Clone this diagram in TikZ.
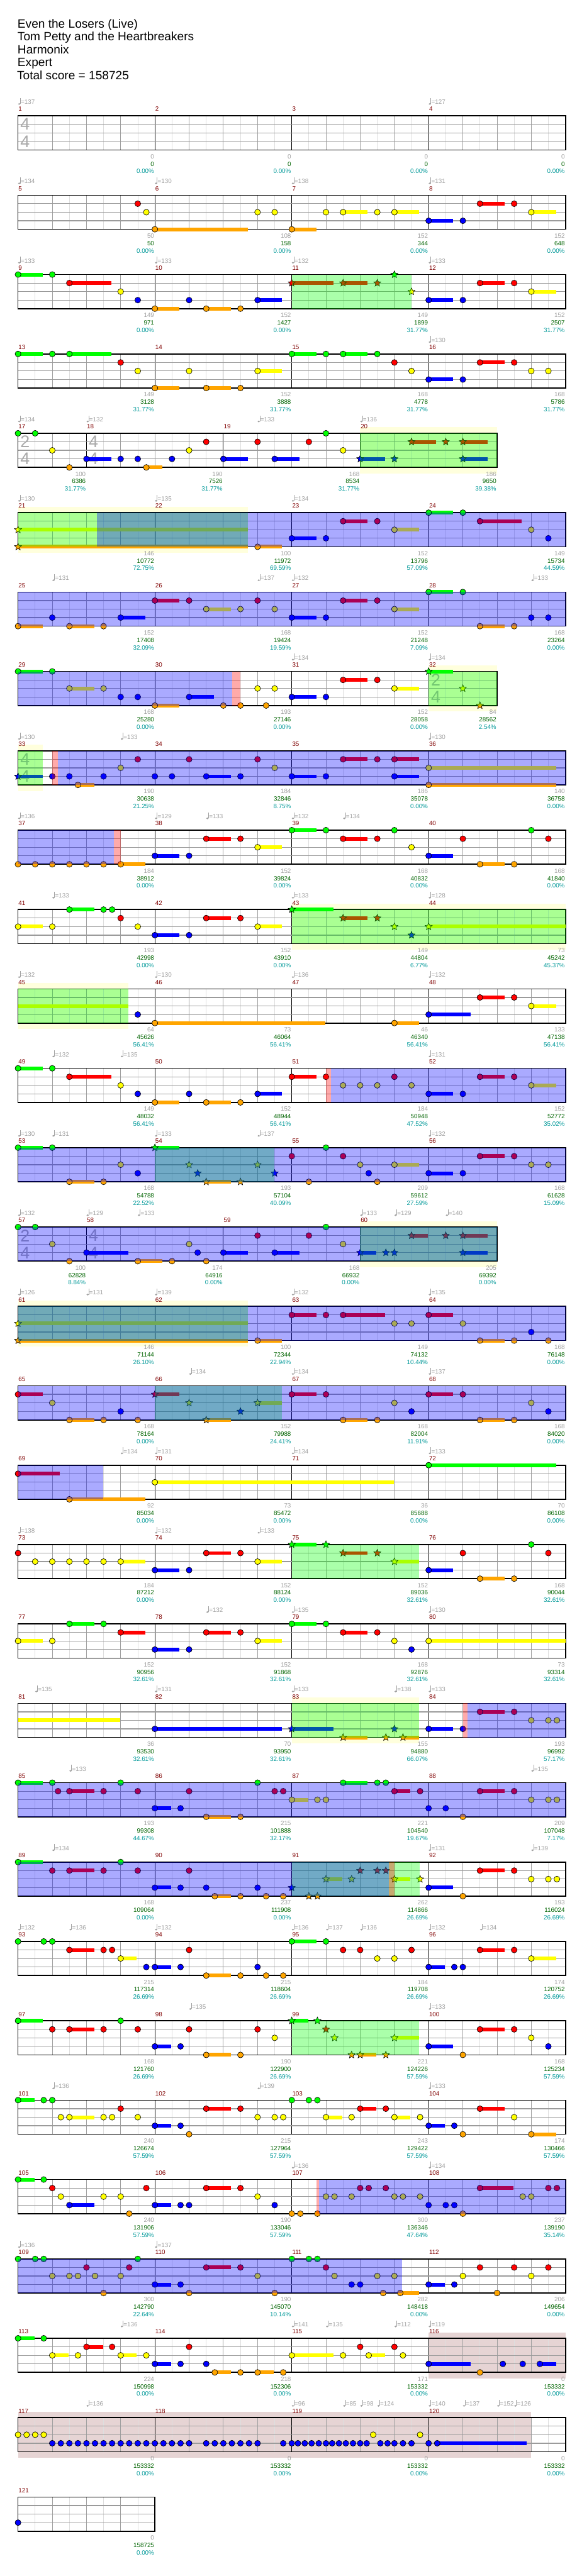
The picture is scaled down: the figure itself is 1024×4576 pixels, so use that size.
\documentclass[tikz,border=0pt]{standalone}
\usepackage{fontspec}
\setmainfont{Liberation Sans}
\usetikzlibrary{shapes.geometric}
\definecolor{cG}{RGB}{0,255,0}
\definecolor{cR}{RGB}{255,0,0}
\definecolor{cY}{RGB}{255,255,0}
\definecolor{cB}{RGB}{0,0,255}
\definecolor{cO}{RGB}{255,165,0}
\definecolor{mred}{RGB}{128,0,0}
\definecolor{tgray}{RGB}{160,160,160}
\definecolor{sgreen}{RGB}{0,100,0}
\definecolor{steal}{RGB}{0,153,153}
\definecolor{halfc}{RGB}{222,222,222}
\definecolor{beatc}{RGB}{160,160,160}
\definecolor{lanec}{RGB}{155,155,155}
\definecolor{tsc}{RGB}{170,170,170}
\definecolor{ybandc}{RGB}{255,255,221}
\definecolor{codac}{RGB}{230,212,212}
\def\laneG{0}\def\laneR{1}\def\laneY{2}\def\laneB{3}\def\laneO{4}
\newcommand\ly[1]{\csname lane#1\endcsname}
\newcommand\scfont{\fontsize{8.25pt}{9pt}\selectfont}
\tikzset{
 rowsty/.style={xshift=24pt, yshift={-(154.275+105.75*(#1-1))*1pt}, x=45.5625pt, y=-11.3625pt},
 gemsty/.style={draw=black, line width=0.55pt},
 starsty/.style={star, star points=5, star point ratio=2.2, minimum size=10pt, inner sep=0pt, draw=black, line width=0.5pt},
 halfl/.style={halfc, line width=0.7pt},
 beatl/.style={beatc, line width=0.7pt},
 measl/.style={black, line width=0.75pt},
 lanel/.style={lanec, line width=1pt},
 borderl/.style={black, line width=1.4pt},
 mnsty/.style={mred, font=\scfont, inner sep=0pt, anchor=base west},
 tpsty/.style={tgray, font=\scfont, inner sep=0pt, anchor=base west},
 sca/.style={tgray, font=\scfont, inner sep=0pt, anchor=base east},
 scb/.style={sgreen, font=\scfont, inner sep=0pt, anchor=base east},
 scc/.style={steal, font=\scfont, inner sep=0pt, anchor=base east},
 tssty/.style={tsc, font=\fontsize{22.5pt}{24pt}\selectfont, inner sep=0pt, anchor=west},
 hdr/.style={font=\fontsize{16pt}{19pt}\selectfont, inner sep=0pt, anchor=base west}
}
\newcommand\gem[2]{\filldraw[gemsty, fill=c#2] (#1,\ly{#2}) circle[radius=3.9pt];}
\newcommand\sust[3]{\fill[c#3] (#1,{\ly{#3}-0.22}) rectangle (#2,{\ly{#3}+0.22});}
\newcommand\hold[3]{\sust{#1}{#2}{#3}\gem{#1}{#3}}
\newcommand\sgem[2]{\node[starsty, fill=c#2] at (#1,\ly{#2}) {};}
\newcommand\shold[3]{\sust{#1}{#2}{#3}\sgem{#1}{#3}}
\newcommand\ovB[2]{\fill[cB, fill opacity=0.3333] (#1,0) rectangle (#2,4);}
\newcommand\ovG[2]{\fill[cG, fill opacity=0.3333] (#1,0) rectangle (#2,4);}
\newcommand\ovP[2]{\fill[cR, fill opacity=0.3333] (#1,0) rectangle (#2,4);}
\newcommand\yband[2]{\fill[ybandc] (#1,-0.7) rectangle (#2,4.7);}
\newcommand\coda[2]{\fill[codac] (#1,-0.7) rectangle (#2,4.7);}
\newcommand\staffgrid[3]{%
 \foreach \ii in {0.5,1.5,...,#2} \draw[halfl] (\ii,0)--(\ii,4);
 \foreach \ii in {1,...,#1} \draw[beatl] (\ii,0)--(\ii,4);
 \foreach \ii in {#3} \draw[measl] (\ii,0)--(\ii,4);
 \foreach \ii in {1,2,3} \draw[lanel] (0,\ii)--(#1,\ii);
 \draw[borderl] (0,0) rectangle (#1,4);}
\newcommand\tsig[3]{\node[tssty] at ([xshift=3pt]#1,1) {#2};\node[tssty] at ([xshift=3pt]#1,3) {#3};}
\newcommand\tempo[2]{%
 \fill[tgray] ([xshift=1.6pt]#1,-1.386) ellipse[x radius=1.6pt, y radius=1.15pt];
 \draw[tgray, line width=0.5pt] ([xshift=3pt]#1,-1.386) -- ([xshift=3pt]#1,-2.09);
 \node[tpsty] at ([xshift=3.6pt]#1,-1.366) {=#2};}
\newcommand\mnum[2]{\node[mnsty] at ([xshift=0.5pt]#1,-0.53) {#2};}
\newcommand\scores[4]{%
 \node[sca] at ([xshift=-0.8pt]#1,5.02) {#2};
 \node[scb] at ([xshift=-0.8pt]#1,5.9) {#3};
 \node[scc] at ([xshift=-0.8pt]#1,6.77) {#4};}
\newcommand\fourm[4]{\mnum{0}{#1}\mnum{4}{#2}\mnum{8}{#3}\mnum{12}{#4}}
\begin{document}
\begin{tikzpicture}[x=0.75pt, y=-0.75pt]
\useasboundingbox (0,0) rectangle (1024,4576);
\fill[white] (0,0) rectangle (1024,4576);
\node[hdr] (title) at (31,49.3) {Even the Losers (Live)};
\node[hdr] (artist) at (31,72.3) {Tom Petty and the Heartbreakers};
\node[hdr] (author) at (31,95.3) {Harmonix};
\node[hdr] (diff) at (31,118.3) {Expert};
\node[hdr] (total) at (30,141.3) {Total score = 158725};
% ---- row 1
\begin{scope}[rowsty=1]
\staffgrid{16}{15.5}{0,4,8,12}\tsig{0}{4}{4}
\tempo{0}{137}\tempo{12}{127}\fourm{1}{2}{3}{4}
\scores{4}{0}{0}{0.00\%}\scores{8}{0}{0}{0.00\%}\scores{12}{0}{0}{0.00\%}\scores{16}{0}{0}{0.00\%}
\end{scope}
% ---- row 2
\begin{scope}[rowsty=2]
\staffgrid{16}{15.5}{0,4,8,12}
\gem{3.5}{R}\gem{3.75}{Y}\hold{4}{6.72}{O}\gem{7}{Y}\gem{7.5}{Y}\hold{8}{8.73}{O}\gem{9}{Y}\hold{9.5}{10.22}{Y}\gem{10.5}{Y}\hold{11}{11.72}{Y}\hold{12}{12.72}{B}\gem{13}{B}\hold{13.5}{14.23}{R}\gem{14.5}{R}\hold{15}{15.73}{Y}
\tempo{0}{134}\tempo{4}{130}\tempo{8}{138}\tempo{12}{131}\fourm{5}{6}{7}{8}
\scores{4}{50}{50}{0.00\%}\scores{8}{108}{158}{0.00\%}\scores{12}{152}{344}{0.00\%}\scores{16}{152}{648}{0.00\%}
\end{scope}
% ---- row 3
\begin{scope}[rowsty=3]
\staffgrid{16}{15.5}{0,4,8,12}
\hold{0}{0.73}{G}\gem{1}{G}\hold{1.5}{2.72}{R}\gem{3}{Y}\gem{3.5}{B}\hold{4}{4.72}{O}\gem{5}{B}\hold{5.5}{6.23}{O}\gem{6.5}{O}\hold{7}{7.72}{B}
\shold{8}{9.22}{R}\shold{9.5}{10.22}{R}\sgem{10.5}{R}\sgem{11}{G}\sgem{11.5}{Y}
\hold{12}{12.72}{B}\gem{13}{B}\hold{13.5}{14.23}{R}\gem{14.5}{R}\hold{15}{15.73}{Y}
\ovG{8}{11.5}
\tempo{0}{133}\tempo{4}{133}\tempo{8}{132}\tempo{12}{133}\fourm{9}{10}{11}{12}
\scores{4}{149}{971}{0.00\%}\scores{8}{152}{1427}{0.00\%}\scores{12}{149}{1899}{31.77\%}\scores{16}{152}{2507}{31.77\%}
\end{scope}
% ---- row 4
\begin{scope}[rowsty=4]
\staffgrid{16}{15.5}{0,4,8,12}
\hold{0}{0.73}{G}\gem{1}{G}\hold{1.5}{2.72}{G}\gem{3}{R}\gem{3.5}{Y}\hold{4}{4.72}{O}\gem{5}{Y}\hold{5.5}{6.23}{O}\gem{6.5}{O}\hold{7}{7.72}{Y}\hold{8}{8.73}{G}\gem{9}{G}\hold{9.5}{10.22}{G}\gem{10.5}{G}\gem{11}{R}\gem{11.5}{Y}\hold{12}{12.72}{B}\gem{13}{B}\hold{13.5}{14.23}{R}\gem{14.5}{R}\gem{15}{Y}\gem{15.5}{Y}
\tempo{12}{130}\fourm{13}{14}{15}{16}
\scores{4}{149}{3128}{31.77\%}\scores{8}{152}{3888}{31.77\%}\scores{12}{168}{4778}{31.77\%}\scores{16}{168}{5786}{31.77\%}
\end{scope}
% ---- row 5
\begin{scope}[rowsty=5]
\yband{10}{14}
\staffgrid{14}{13.5}{0,2,6,10}\tsig{0}{2}{4}\tsig{2}{4}{4}
\gem{0}{G}\gem{0.5}{G}\gem{1}{Y}\gem{1.5}{O}\hold{2}{2.72}{B}\gem{3}{B}\gem{3.5}{B}\hold{3.75}{4.22}{O}\gem{4.5}{B}\gem{5}{Y}\gem{5.5}{R}\hold{6}{6.72}{B}\gem{7}{R}\hold{7.5}{8.22}{B}\gem{8.5}{R}\gem{9}{G}\gem{9.5}{Y}
\shold{10}{10.72}{B}\sgem{11}{B}\shold{11.5}{12.22}{R}\sgem{12.5}{R}\shold{13}{13.72}{R}\shold{13}{13.72}{B}
\ovG{10}{14}
\tempo{0}{134}\tempo{2}{132}\tempo{7}{133}\tempo{10}{136}
\mnum{0}{17}\mnum{2}{18}\mnum{6}{19}\mnum{10}{20}
\scores{2}{100}{6386}{31.77\%}\scores{6}{190}{7526}{31.77\%}\scores{10}{168}{8534}{31.77\%}\scores{14}{186}{9650}{39.38\%}
\end{scope}
% ---- row 6
\begin{scope}[rowsty=6]
\yband{0}{6.72}
\staffgrid{16}{15.5}{0,4,8,12}
\shold{0}{6.72}{Y}\shold{0}{6.72}{O}\hold{7}{7.72}{O}\hold{8}{8.73}{B}\gem{9}{B}\hold{9.5}{10.22}{R}\gem{10.5}{R}\hold{11}{11.72}{Y}\hold{12}{12.72}{G}\gem{13}{G}\hold{13.5}{14.72}{R}\gem{15}{Y}\gem{15.5}{B}
\ovG{0}{6.72}\ovB{2.31}{16}
\tempo{0}{130}\tempo{4}{135}\tempo{8}{134}\fourm{21}{22}{23}{24}
\scores{4}{146}{10772}{72.75\%}\scores{8}{100}{11972}{69.59\%}\scores{12}{152}{13796}{57.09\%}\scores{16}{149}{15734}{44.59\%}
\end{scope}
% ---- row 7
\begin{scope}[rowsty=7]
\staffgrid{16}{15.5}{0,4,8,12}
\hold{0}{0.73}{O}\gem{1}{B}\hold{1.5}{2.23}{O}\gem{2.5}{O}\hold{3}{3.72}{B}\hold{4}{4.72}{R}\gem{5}{R}\hold{5.5}{6.23}{Y}\gem{6.5}{Y}\gem{7}{R}\gem{7.5}{Y}\hold{8}{8.73}{B}\gem{9}{B}\hold{9.5}{10.22}{R}\gem{10.5}{R}\hold{11}{11.72}{Y}\hold{12}{12.72}{G}\gem{13}{G}\hold{13.5}{14.23}{O}\gem{14.5}{O}\gem{15}{B}\gem{15.5}{B}
\ovB{0}{16}
\tempo{1}{131}\tempo{7}{137}\tempo{8}{132}\tempo{15}{133}\fourm{25}{26}{27}{28}
\scores{4}{152}{17408}{32.09\%}\scores{8}{168}{19424}{19.59\%}\scores{12}{152}{21248}{7.09\%}\scores{16}{168}{23264}{0.00\%}
\end{scope}
% ---- row 8
\begin{scope}[rowsty=8]
\yband{12}{14}
\staffgrid{14}{13.5}{0,4,8,12}\tsig{12}{2}{4}
\hold{0}{0.73}{G}\gem{1}{G}\hold{1.5}{2.23}{Y}\gem{2.5}{Y}\gem{3}{B}\gem{3.5}{B}\hold{4}{4.72}{O}\hold{5}{5.73}{B}\gem{6}{O}\gem{6.5}{O}\gem{7}{Y}\gem{7.25}{O}\gem{7.5}{Y}\hold{8}{8.73}{B}\gem{9}{B}\hold{9.5}{10.22}{R}\gem{10.5}{R}\hold{11}{11.72}{Y}\shold{12}{12.72}{G}\sgem{13}{Y}\sgem{13.5}{O}
\ovB{0}{6.25}\ovP{6.25}{6.5}\ovG{12}{14}
\tempo{8}{134}\tempo{12}{134}\fourm{29}{30}{31}{32}
\scores{4}{168}{25280}{0.00\%}\scores{8}{193}{27146}{0.00\%}\scores{12}{152}{28058}{0.00\%}\scores{14}{84}{28562}{2.54\%}
\end{scope}
% ---- row 9
\begin{scope}[rowsty=9]
\yband{0}{0.73}
\staffgrid{16}{15.5}{0,4,8,12}\tsig{0}{4}{4}
\shold{0}{0.73}{B}\gem{1}{B}\gem{1.5}{B}\hold{1.75}{2.23}{O}\gem{2.5}{B}\gem{3}{Y}\gem{3.5}{R}\gem{4}{B}\gem{4.5}{B}\gem{5}{R}\hold{5.5}{6.23}{B}\gem{6.5}{B}\gem{7}{R}\gem{7.5}{Y}\hold{8}{8.73}{B}\gem{9}{B}\hold{9.5}{10.22}{R}\gem{10.5}{R}\hold{11}{11.72}{R}\hold{11}{11.72}{B}\hold{12}{15.73}{Y}\hold{12}{15.73}{O}
\ovG{0}{0.73}\ovP{1}{1.16}\ovB{1.16}{16}
\tempo{0}{130}\tempo{3}{133}\tempo{12}{130}\fourm{33}{34}{35}{36}
\scores{4}{190}{30638}{21.25\%}\scores{8}{184}{32846}{8.75\%}\scores{12}{186}{35078}{0.00\%}\scores{16}{140}{36758}{0.00\%}
\end{scope}
% ---- row 10
\begin{scope}[rowsty=10]
\staffgrid{16}{15.5}{0,4,8,12}
\gem{0}{O}\gem{0.5}{O}\gem{1}{O}\gem{1.5}{O}\gem{2}{O}\gem{2.5}{O}\hold{3}{3.72}{O}\hold{4}{4.72}{B}\gem{5}{B}\hold{5.5}{6.23}{R}\gem{6.5}{R}\hold{7}{7.72}{Y}\hold{8}{8.73}{G}\gem{9}{G}\hold{9.5}{10.22}{R}\gem{10.5}{R}\gem{11}{G}\gem{11.5}{Y}\hold{12}{12.72}{B}\gem{13}{R}\hold{13.5}{14.23}{O}\gem{14.5}{O}\gem{15}{G}\gem{15.5}{R}
\ovB{0}{2.8}\ovP{2.8}{3}
\tempo{0}{136}\tempo{4}{129}\tempo{5.5}{133}\tempo{8}{132}\tempo{9.5}{134}\fourm{37}{38}{39}{40}
\scores{4}{184}{38912}{0.00\%}\scores{8}{152}{39824}{0.00\%}\scores{12}{168}{40832}{0.00\%}\scores{16}{168}{41840}{0.00\%}
\end{scope}
% ---- row 11
\begin{scope}[rowsty=11]
\yband{8}{16}
\staffgrid{16}{15.5}{0,4,8,12}
\hold{0}{0.73}{Y}\gem{1}{Y}\hold{1.5}{2.23}{G}\gem{2.5}{G}\gem{2.75}{G}\gem{3}{R}\gem{3.5}{Y}\hold{4}{4.72}{B}\gem{5}{B}\hold{5.5}{6.23}{R}\gem{6.5}{R}\hold{7}{7.72}{Y}\shold{8}{9.22}{G}\shold{9.5}{10.22}{R}\sgem{10.5}{R}\sgem{11}{Y}\sgem{11.5}{B}\shold{12}{16}{Y}
\ovG{8}{16}
\tempo{1}{133}\tempo{8}{133}\tempo{12}{128}\fourm{41}{42}{43}{44}
\scores{4}{193}{42998}{0.00\%}\scores{8}{152}{43910}{0.00\%}\scores{12}{149}{44804}{6.77\%}\scores{16}{73}{45242}{45.37\%}
\end{scope}
% ---- row 12
\begin{scope}[rowsty=12]
\yband{0}{3.23}
\staffgrid{16}{15.5}{0,4,8,12}
\sust{0}{3.23}{Y}\gem{3.5}{B}\hold{4}{8.98}{O}\hold{11}{11.72}{O}\hold{12}{13.22}{B}\hold{13.5}{14.23}{R}\gem{14.5}{R}\hold{15}{15.73}{Y}
\ovG{0}{3.23}
\tempo{0}{132}\tempo{4}{130}\tempo{8}{136}\tempo{12}{132}\fourm{45}{46}{47}{48}
\scores{4}{64}{45626}{56.41\%}\scores{8}{73}{46064}{56.41\%}\scores{12}{46}{46340}{56.41\%}\scores{16}{133}{47138}{56.41\%}
\end{scope}
% ---- row 13
\begin{scope}[rowsty=13]
\staffgrid{16}{15.5}{0,4,8,12}
\hold{0}{0.73}{G}\gem{1}{G}\hold{1.5}{2.72}{R}\gem{3}{Y}\gem{3.5}{B}\hold{4}{4.72}{O}\gem{5}{B}\hold{5.5}{6.23}{O}\gem{6.5}{O}\hold{7}{7.72}{B}\hold{8}{8.73}{R}\gem{9}{R}\gem{9.5}{Y}\gem{10}{Y}\gem{10.5}{Y}\gem{11}{R}\gem{11.5}{Y}\hold{12}{12.72}{B}\gem{13}{B}\hold{13.5}{14.23}{R}\gem{14.5}{R}\hold{15}{15.73}{Y}
\ovP{9}{9.14}\ovB{9.14}{16}
\tempo{1}{132}\tempo{3}{135}\tempo{12}{131}\fourm{49}{50}{51}{52}
\scores{4}{149}{48032}{56.41\%}\scores{8}{152}{48944}{56.41\%}\scores{12}{184}{50948}{47.52\%}\scores{16}{152}{52772}{35.02\%}
\end{scope}
% ---- row 14
\begin{scope}[rowsty=14]
\staffgrid{16}{15.5}{0,4,8,12}
\hold{0}{0.73}{G}\gem{1}{G}\hold{1.5}{2.23}{O}\gem{2.5}{O}\gem{3}{Y}\gem{3.5}{B}\shold{4}{4.72}{G}\sgem{5}{Y}\sgem{5.25}{B}\shold{5.5}{6.23}{O}\sgem{6.5}{O}\sgem{7}{Y}\sgem{7.5}{B}\gem{8}{R}\gem{8.5}{O}\gem{9}{G}\gem{9.5}{R}\gem{10}{Y}\gem{10.25}{B}\gem{10.5}{O}\hold{11}{11.72}{Y}\hold{12}{12.72}{B}\gem{13}{B}\hold{13.5}{14.23}{R}\gem{14.5}{R}\gem{15}{Y}\gem{15.5}{Y}
\ovG{4}{7.5}\ovB{0}{16}
\tempo{0}{130}\tempo{1}{131}\tempo{4}{133}\tempo{7}{137}\tempo{12}{132}\fourm{53}{54}{55}{56}
\scores{4}{168}{54788}{22.52\%}\scores{8}{193}{57104}{40.09\%}\scores{12}{209}{59612}{27.59\%}\scores{16}{168}{61628}{15.09\%}
\end{scope}
% ---- row 15
\begin{scope}[rowsty=15]
\yband{10}{14}
\staffgrid{14}{13.5}{0,2,6,10}\tsig{0}{2}{4}\tsig{2}{4}{4}
\gem{0}{G}\gem{0.5}{G}\gem{1}{Y}\gem{1.5}{O}\hold{2}{3.23}{B}\hold{3.5}{4.22}{O}\gem{4.5}{O}\gem{5}{Y}\gem{5.25}{B}\gem{5.5}{O}\hold{6}{6.72}{B}\gem{7}{R}\hold{7.5}{8.22}{B}\gem{8.5}{R}\gem{9}{G}\gem{9.5}{Y}\shold{10}{10.47}{B}\sgem{10.75}{B}\sgem{11}{B}\shold{11.5}{11.97}{R}\sgem{12.5}{R}\shold{13}{13.72}{R}\shold{13}{13.72}{B}
\ovG{10}{14}\ovB{0}{14}
\tempo{0}{132}\tempo{2}{129}\tempo{3.5}{133}\tempo{10}{133}\tempo{11}{129}\tempo{12.5}{140}
\mnum{0}{57}\mnum{2}{58}\mnum{6}{59}\mnum{10}{60}
\scores{2}{100}{62828}{8.84\%}\scores{6}{174}{64916}{0.00\%}\scores{10}{168}{66932}{0.00\%}\scores{14}{205}{69392}{0.00\%}
\end{scope}
% ---- row 16
\begin{scope}[rowsty=16]
\yband{0}{6.72}
\staffgrid{16}{15.5}{0,4,8,12}
\shold{0}{6.72}{Y}\shold{0}{6.72}{O}\hold{7}{7.72}{O}\hold{8}{8.73}{R}\gem{9}{R}\hold{9.5}{10.72}{R}\gem{11}{Y}\gem{11.5}{Y}\hold{12}{12.72}{R}\gem{13}{Y}\hold{13.5}{14.23}{O}\gem{14.5}{O}\gem{15}{B}\gem{15.5}{O}
\ovG{0}{6.72}\ovB{0}{16}
\tempo{0}{126}\tempo{2}{131}\tempo{4}{139}\tempo{8}{132}\tempo{12}{135}\fourm{61}{62}{63}{64}
\scores{4}{146}{71144}{26.10\%}\scores{8}{100}{72344}{22.94\%}\scores{12}{149}{74132}{10.44\%}\scores{16}{168}{76148}{0.00\%}
\end{scope}
% ---- row 17
\begin{scope}[rowsty=17]
\staffgrid{16}{15.5}{0,4,8,12}
\hold{0}{0.73}{R}\gem{1}{Y}\hold{1.5}{2.23}{O}\gem{2.5}{O}\gem{3}{B}\gem{3.5}{O}\shold{4}{4.72}{R}\sgem{5}{Y}\shold{5.5}{6.23}{O}\sgem{6.5}{B}\shold{7}{7.72}{Y}\hold{8}{8.73}{R}\gem{9}{R}\hold{9.5}{10.22}{O}\gem{10.5}{O}\gem{11}{Y}\gem{11.5}{B}\hold{12}{12.72}{R}\gem{13}{R}\hold{13.5}{14.23}{O}\gem{14.5}{O}\gem{15}{Y}\gem{15.5}{B}
\ovG{4}{7.72}\ovB{0}{16}
\tempo{5}{134}\tempo{8}{134}\tempo{12}{137}\fourm{65}{66}{67}{68}
\scores{4}{168}{78164}{0.00\%}\scores{8}{152}{79988}{24.41\%}\scores{12}{168}{82004}{11.91\%}\scores{16}{168}{84020}{0.00\%}
\end{scope}
% ---- row 18
\begin{scope}[rowsty=18]
\staffgrid{16}{15.5}{0,4,8,12}
\hold{0}{1.22}{R}\hold{1.5}{3.72}{O}\hold{4}{10.98}{Y}\hold{12}{15.73}{G}
\ovB{0}{2.48}
\tempo{3}{134}\tempo{4}{131}\tempo{8}{134}\tempo{12}{133}\fourm{69}{70}{71}{72}
\scores{4}{92}{85034}{0.00\%}\scores{8}{73}{85472}{0.00\%}\scores{12}{36}{85688}{0.00\%}\scores{16}{70}{86108}{0.00\%}
\end{scope}
% ---- row 19
\begin{scope}[rowsty=19]
\staffgrid{16}{15.5}{0,4,8,12}
\gem{0}{R}\gem{0.5}{Y}\gem{1}{Y}\gem{1.5}{Y}\gem{2}{Y}\gem{2.5}{Y}\hold{3}{3.72}{Y}\hold{4}{4.72}{B}\gem{5}{B}\hold{5.5}{6.23}{R}\gem{6.5}{R}\hold{7}{7.72}{Y}\shold{8}{8.73}{G}\sgem{9}{G}\shold{9.5}{10.22}{R}\sgem{10.5}{R}\shold{11}{11.72}{Y}\hold{12}{12.72}{B}\gem{13}{R}\hold{13.5}{14.23}{O}\gem{14.5}{O}\gem{15}{G}\gem{15.5}{R}
\ovG{8}{11.72}
\tempo{0}{138}\tempo{4}{132}\tempo{7}{133}\fourm{73}{74}{75}{76}
\scores{4}{184}{87212}{0.00\%}\scores{8}{152}{88124}{0.00\%}\scores{12}{152}{89036}{32.61\%}\scores{16}{168}{90044}{32.61\%}
\end{scope}
% ---- row 20
\begin{scope}[rowsty=20]
\staffgrid{16}{15.5}{0,4,8,12}
\hold{0}{0.73}{Y}\gem{1}{Y}\hold{1.5}{2.23}{G}\gem{2.5}{G}\hold{3}{3.72}{R}\hold{4}{4.72}{B}\gem{5}{B}\hold{5.5}{6.23}{R}\gem{6.5}{R}\hold{7}{7.72}{Y}\hold{8}{8.73}{G}\gem{9}{G}\hold{9.5}{10.22}{R}\gem{10.5}{R}\gem{11}{Y}\gem{11.5}{B}\hold{12}{16}{Y}
\tempo{5.5}{132}\tempo{8}{135}\tempo{12}{130}\fourm{77}{78}{79}{80}
\scores{4}{152}{90956}{32.61\%}\scores{8}{152}{91868}{32.61\%}\scores{12}{168}{92876}{32.61\%}\scores{16}{73}{93314}{32.61\%}
\end{scope}
% ---- row 21
\begin{scope}[rowsty=21]
\yband{8}{11.72}
\staffgrid{16}{15.5}{0,4,8,12}
\sust{0}{2.98}{Y}\hold{4}{7.72}{B}\shold{8}{9.22}{B}\shold{9.5}{10.22}{O}\sgem{10.75}{O}\sgem{11}{B}\shold{11.25}{11.72}{O}\hold{12}{12.72}{B}\gem{13}{B}\hold{13.5}{14.23}{R}\gem{14.5}{R}\gem{15}{Y}\gem{15.5}{Y}\gem{15.75}{Y}
\ovG{8}{11.72}\ovP{13}{13.14}\ovB{13.14}{16}
\tempo{0.5}{135}\tempo{4}{131}\tempo{8}{133}\tempo{11}{138}\tempo{12}{133}\fourm{81}{82}{83}{84}
\scores{4}{36}{93530}{32.61\%}\scores{8}{70}{93950}{32.61\%}\scores{12}{155}{94880}{66.07\%}\scores{16}{193}{96992}{57.17\%}
\end{scope}
% ---- row 22
\begin{scope}[rowsty=22]
\staffgrid{16}{15.5}{0,4,8,12}
\hold{0}{0.73}{G}\gem{1}{G}\gem{1.17}{R}\hold{1.5}{2.23}{R}\gem{2.5}{R}\gem{3}{G}\gem{3.5}{R}\hold{4}{4.47}{B}\gem{4.75}{B}\gem{5}{R}\hold{5.5}{6.23}{O}\gem{6.5}{O}\gem{7}{G}\gem{7.5}{R}\gem{7.75}{R}\hold{8}{8.48}{Y}\gem{8.75}{Y}\gem{9}{Y}\hold{9.5}{10.22}{G}\gem{10.5}{G}\gem{10.75}{G}\hold{11}{11.47}{R}\gem{11.75}{R}\gem{12}{B}\gem{12.5}{B}\gem{13}{O}\hold{13.5}{14.23}{R}\gem{14.5}{R}\gem{15}{Y}\gem{15.5}{Y}\gem{15.75}{Y}
\ovB{0}{16}
\tempo{1.5}{133}\tempo{15}{135}\fourm{85}{86}{87}{88}
\scores{4}{193}{99308}{44.67\%}\scores{8}{215}{101888}{32.17\%}\scores{12}{221}{104540}{19.67\%}\scores{16}{209}{107048}{7.17\%}
\end{scope}
% ---- row 23
\begin{scope}[rowsty=23]
\staffgrid{16}{15.5}{0,4,8,12}
\hold{0}{0.73}{G}\gem{1}{R}\hold{1.5}{2.23}{R}\gem{2.5}{R}\gem{3}{G}\gem{3.5}{R}\hold{4}{4.47}{B}\gem{4.75}{B}\gem{5}{R}\gem{5.5}{B}\hold{5.75}{6.23}{O}\gem{6.5}{O}\gem{7}{B}\gem{7.25}{O}\gem{7.75}{O}\sgem{8}{B}\sgem{8.5}{O}\sgem{8.75}{O}\shold{9}{9.47}{Y}\sgem{9.75}{Y}\sgem{10}{R}\sgem{10.5}{R}\sgem{10.75}{R}\shold{11}{11.47}{Y}\sgem{11.75}{Y}\hold{12}{12.72}{B}\gem{13}{O}\hold{13.5}{14.23}{R}\gem{14.5}{R}\gem{15}{Y}\gem{15.5}{Y}\gem{15.75}{Y}
\ovG{8}{11.74}\ovB{0}{10.83}\ovP{10.83}{11}
\tempo{1}{134}\tempo{12}{131}\tempo{15}{139}\fourm{89}{90}{91}{92}
\scores{4}{168}{109064}{0.00\%}\scores{8}{237}{111908}{0.00\%}\scores{12}{262}{114866}{26.69\%}\scores{16}{193}{116024}{26.69\%}
\end{scope}
% ---- row 24
\begin{scope}[rowsty=24]
\staffgrid{16}{15.5}{0,4,8,12}
\gem{0}{G}\gem{0.75}{G}\gem{1}{G}\hold{1.5}{2.23}{R}\gem{2.5}{R}\gem{2.75}{R}\hold{3}{3.47}{Y}\gem{3.75}{B}\hold{4}{4.47}{B}\gem{4.75}{B}\gem{5}{R}\hold{5.5}{6.23}{O}\gem{6.5}{O}\gem{7}{B}\gem{7.25}{O}\gem{7.75}{O}\hold{8}{8.73}{G}\gem{9}{G}\gem{9.5}{R}\gem{10}{R}\gem{10.5}{Y}\gem{11}{Y}\gem{11.5}{R}\hold{12}{12.47}{B}\gem{12.75}{B}\gem{13}{B}\hold{13.5}{14.23}{R}\gem{14.5}{R}\hold{15}{15.73}{Y}
\tempo{0}{132}\tempo{1.5}{136}\tempo{4}{132}\tempo{8}{136}\tempo{9}{137}\tempo{10}{136}\tempo{12}{132}\tempo{13.5}{134}\fourm{93}{94}{95}{96}
\scores{4}{215}{117314}{26.69\%}\scores{8}{215}{118604}{26.69\%}\scores{12}{184}{119708}{26.69\%}\scores{16}{174}{120752}{26.69\%}
\end{scope}
% ---- row 25
\begin{scope}[rowsty=25]
\staffgrid{16}{15.5}{0,4,8,12}
\hold{0}{0.73}{G}\gem{1}{R}\hold{1.5}{2.23}{R}\gem{2.5}{R}\gem{3}{G}\gem{3.5}{R}\hold{4}{4.47}{B}\gem{4.75}{B}\gem{5}{R}\hold{5.5}{6.23}{O}\gem{6.5}{O}\gem{7}{R}\gem{7.5}{Y}\shold{8}{8.48}{G}\sgem{8.75}{G}\sgem{9}{R}\sgem{9.25}{Y}\sgem{9.75}{O}\shold{10}{10.47}{O}\sgem{10.75}{O}\shold{11}{11.72}{Y}\hold{12}{12.72}{B}\gem{13}{O}\hold{13.5}{14.23}{R}\gem{14.5}{R}\gem{15}{Y}\gem{15.5}{B}
\ovG{8}{11.72}
\tempo{5}{135}\tempo{12}{133}\fourm{97}{98}{99}{100}
\scores{4}{168}{121760}{26.69\%}\scores{8}{190}{122900}{26.69\%}\scores{12}{221}{124226}{57.59\%}\scores{16}{168}{125234}{57.59\%}
\end{scope}
% ---- row 26
\begin{scope}[rowsty=26]
\staffgrid{16}{15.5}{0,4,8,12}
\hold{0}{0.48}{G}\gem{0.75}{G}\gem{1}{G}\gem{1.25}{Y}\hold{1.5}{2.23}{Y}\gem{2.5}{Y}\gem{2.75}{Y}\gem{3}{R}\gem{3.5}{Y}\hold{4}{4.47}{B}\gem{4.75}{B}\gem{5}{O}\hold{5.5}{6.23}{R}\gem{6.5}{R}\gem{7}{Y}\gem{7.5}{Y}\gem{7.75}{Y}\gem{8}{G}\gem{8.5}{G}\gem{8.75}{G}\hold{9}{9.47}{Y}\gem{9.75}{Y}\hold{10}{10.47}{R}\gem{10.75}{R}\hold{11}{11.47}{Y}\gem{11.75}{Y}\hold{12}{12.47}{B}\gem{12.75}{B}\gem{13}{O}\hold{13.5}{14.23}{R}\gem{14.5}{Y}\hold{15}{15.73}{O}
\tempo{1}{136}\tempo{7}{139}\tempo{12}{133}\fourm{101}{102}{103}{104}
\scores{4}{240}{126674}{57.59\%}\scores{8}{215}{127964}{57.59\%}\scores{12}{243}{129422}{57.59\%}\scores{16}{174}{130466}{57.59\%}
\end{scope}
% ---- row 27
\begin{scope}[rowsty=27]
\staffgrid{16}{15.5}{0,4,8,12}
\hold{0}{0.48}{G}\gem{0.75}{G}\gem{1}{R}\gem{1.25}{Y}\hold{1.5}{2.23}{B}\gem{2.5}{Y}\gem{3}{Y}\gem{3.25}{O}\gem{3.75}{R}\hold{4}{4.47}{B}\gem{4.75}{B}\gem{5}{B}\hold{5.5}{6.23}{R}\gem{6.5}{R}\gem{7}{Y}\gem{7.5}{B}\gem{8}{O}\gem{8.25}{O}\gem{8.75}{O}\gem{9}{Y}\gem{9.25}{Y}\gem{9.75}{Y}\gem{10}{R}\gem{10.25}{R}\gem{10.75}{R}\gem{11}{Y}\gem{11.25}{Y}\gem{11.75}{Y}\gem{12}{B}\gem{12.5}{B}\gem{12.75}{B}\gem{13}{O}\hold{13.5}{14.48}{R}\gem{14.75}{Y}\gem{15}{Y}\gem{15.5}{R}\gem{15.75}{R}
\ovP{8.73}{8.8}\ovB{8.8}{16}
\tempo{8}{136}\tempo{12}{134}\fourm{105}{106}{107}{108}
\scores{4}{240}{131906}{57.59\%}\scores{8}{190}{133046}{57.59\%}\scores{12}{300}{136346}{47.64\%}\scores{16}{237}{139190}{35.14\%}
\end{scope}
% ---- row 28
\begin{scope}[rowsty=28]
\staffgrid{16}{15.5}{0,4,8,12}
\gem{0}{G}\gem{0.5}{G}\gem{0.75}{G}\gem{1}{Y}\gem{1.5}{Y}\gem{1.75}{Y}\gem{2}{R}\gem{2.25}{Y}\gem{2.5}{O}\gem{3}{Y}\gem{3.25}{R}\gem{3.5}{G}\hold{4}{4.47}{B}\gem{4.75}{B}\gem{5}{O}\hold{5.5}{6.23}{R}\gem{6.5}{R}\gem{7}{Y}\gem{7.5}{O}\gem{8}{G}\gem{8.5}{G}\gem{8.75}{G}\gem{9}{R}\gem{9.25}{Y}\gem{9.75}{B}\gem{10}{B}\gem{10.5}{Y}\gem{10.67}{O}\gem{11}{Y}\hold{11.17}{11.72}{O}\hold{12}{12.47}{B}\gem{12.75}{B}\gem{13}{Y}\gem{13.5}{R}\gem{14}{O}\gem{14.5}{R}\gem{15}{Y}\gem{15.5}{R}
\ovB{0}{11.23}
\tempo{0}{136}\tempo{4}{137}\fourm{109}{110}{111}{112}
\scores{4}{300}{142790}{22.64\%}\scores{8}{190}{145070}{10.14\%}\scores{12}{282}{148418}{0.00\%}\scores{16}{206}{149654}{0.00\%}
\end{scope}
% ---- row 29
\begin{scope}[rowsty=29]
\coda{12}{16}
\staffgrid{16}{15.5}{0,4,8,12}
\hold{0}{0.48}{G}\gem{0.75}{G}\hold{1}{1.48}{Y}\gem{1.75}{Y}\hold{2}{2.48}{R}\gem{2.75}{R}\hold{3}{3.47}{Y}\gem{3.75}{Y}\hold{4}{4.47}{B}\gem{4.75}{B}\gem{5}{R}\gem{5.5}{B}\hold{5.75}{6.23}{O}\gem{6.5}{O}\hold{7}{7.48}{O}\gem{7.75}{O}\hold{8}{9.22}{Y}\gem{9.5}{Y}\gem{10}{R}\hold{10.25}{10.72}{Y}\gem{11}{R}\gem{11.25}{Y}\hold{12}{13.22}{B}\gem{13.5}{O}\gem{14.17}{B}\gem{14.75}{B}\hold{15.25}{15.73}{B}
\tempo{3}{136}\tempo{8}{141}\tempo{9}{135}\tempo{11}{112}\tempo{12}{119}\fourm{113}{114}{115}{116}
\scores{4}{224}{150998}{0.00\%}\scores{8}{218}{152306}{0.00\%}\scores{12}{171}{153332}{0.00\%}\scores{16}{0}{153332}{0.00\%}
\end{scope}
% ---- row 30
\begin{scope}[rowsty=30]
\coda{0}{15}
\staffgrid{16}{15.5}{0,4,8,12}
\gem{0}{Y}\gem{0.25}{Y}\gem{0.5}{Y}\gem{0.75}{Y}
\foreach \bb in {1,1.25,...,5} {\gem{\bb}{B}}
\foreach \bb in {5.5,5.75,...,7} {\gem{\bb}{B}}
\foreach \bb in {7.75,8,8.18,8.38,8.58,8.79,9,9.18,9.38,9.58,9.79,10,10.19,10.59,10.8,11,11.25,11.5,12} {\gem{\bb}{B}}
\gem{10.38}{Y}\gem{11.75}{Y}\hold{12.25}{14.86}{B}
\tempo{2}{136}\tempo{8}{96}\tempo{9.5}{85}\tempo{10}{98}\tempo{10.5}{124}\tempo{12}{140}\tempo{13}{137}\tempo{14}{152}\tempo{14.5}{126}\fourm{117}{118}{119}{120}
\scores{4}{0}{153332}{0.00\%}\scores{8}{0}{153332}{0.00\%}\scores{12}{0}{153332}{0.00\%}\scores{16}{0}{153332}{0.00\%}
\end{scope}
% ---- row 31
\begin{scope}[rowsty=31]
\staffgrid{4}{3.5}{0}
\gem{0}{B}
\mnum{0}{121}
\scores{4}{0}{158725}{0.00\%}
\end{scope}
\end{tikzpicture}
\end{document}
